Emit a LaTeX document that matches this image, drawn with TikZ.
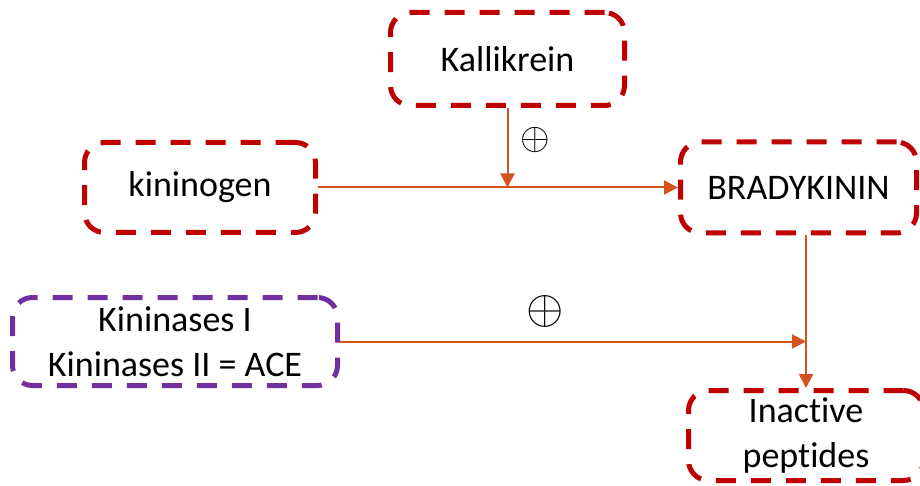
\documentclass[tikz,border=0pt]{standalone}
\usepackage{fontspec}
\setmainfont{Carlito}[Ligatures=NoCommon]
\usetikzlibrary{arrows.meta}
\definecolor{boxred}{HTML}{C00000}
\definecolor{boxpurple}{HTML}{7030A0}
\definecolor{arrowc}{HTML}{D5511E}
\begin{document}
\begin{tikzpicture}[x=1pt,y=1pt,
  dbox/.style={draw=boxred, line width=5pt, dash pattern=on 20pt off 15pt, rounded corners=20pt,
    inner sep=0pt, align=center, font=\fontsize{36}{45}\selectfont, text=black},
  conn/.style={draw=arrowc, line width=2pt, -{Triangle[length=14pt,width=14pt]}},
  sign/.style={inner sep=0pt}]
\useasboundingbox (0,0) rectangle (920,485);
\node[dbox, minimum width=234pt, minimum height=93pt] (kal) at (507.5,426) {Kallikrein};
\node[dbox, minimum width=231pt, minimum height=90pt] (kino) at (200,297.5) {kininogen};
\node[dbox, minimum width=236pt, minimum height=91pt] (brady) at (798.5,297.5) {BRADYKININ};
\node[dbox, draw=boxpurple, minimum width=325pt, minimum height=88pt] (kinase) at (175,143.5) {Kininases I\\Kininases II = ACE};
\node[dbox, minimum width=235pt, minimum height=90pt] (inact) at (806,49.5) {Inactive\\peptides};
\draw[conn] (kino.east) -- (brady.west);
\draw[conn] (kal.south) -- (kal.south |- kino.east);
\draw[conn] (brady.south -| inact.north) -- (inact.north);
\draw[conn] (kinase.east) -- (kinase.east -| inact.north);
\node[sign] (plus1) at (535,345) {\scalebox{3.8}{$\oplus$}};
\node[sign] (plus2) at (545,173) {\scalebox{4.8}{$\oplus$}};
\end{tikzpicture}
\end{document}
